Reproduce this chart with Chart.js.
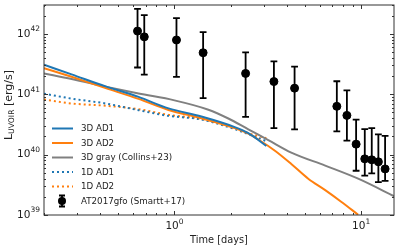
<!DOCTYPE html>
<html>
<head>
<meta charset="utf-8">
<script src="https://cdn.jsdelivr.net/npm/chart.js@4/dist/chart.umd.min.js"></script>
<style>
  html, body { margin: 0; padding: 0; background: #fff; }
  #wrap { width: 399px; height: 249px; }
</style>
</head>
<body>
<div id="wrap"><canvas id="chart" width="399" height="249"></canvas></div>
<script>
const FONT = '"DejaVu Sans", sans-serif';

// 3D AD1
const ad1Time = [0.2, 0.281, 0.428, 0.642, 0.929, 1.394, 2.12, 2.487, 3.105];
const ad1Lum = [3.07e41, 2.13e41, 1.346e41, 9.02e40, 5.82e40, 4.27e40, 2.83e40, 2.26e40, 1.39e40];

// 3D AD2
const ad2Time = [0.2, 0.281, 0.428, 0.642, 0.929, 1.394, 2.12, 2.487, 2.813, 3.468, 4.225, 5.208, 6.42, 7.816, 9.64];
const ad2Lum = [2.7e41, 1.942e41, 1.263e41, 8.37e40, 5.48e40, 4.0e40, 2.72e40, 2.22e40, 1.78e40, 1.15e40, 7.0e39, 3.99e39, 2.58e39, 1.66e39, 1.01e39];

// 3D gray (Collins+23)
const grayTime = [0.2, 0.281, 0.428, 0.642, 1.0, 1.52, 1.944, 2.487, 3.182, 4.225, 6.42, 9.64, 15.2];
const grayLum = [2.21e41, 1.79e41, 1.336e41, 1.028e41, 7.91e40, 5.54e40, 3.96e40, 2.62e40, 1.74e40, 1.08e40, 6.57e39, 3.99e39, 2.01e39];

// 1D AD1 / 1D AD2
const oneDTime = [0.2, 0.281, 0.428, 0.642, 0.929, 1.394, 2.12, 2.487, 3.105];
const oneDAd1Lum = [1.02e41, 8.46e40, 7.02e40, 5.44e40, 4.38e40, 3.81e40, 2.62e40, 2.18e40, 1.67e40];
const oneDAd2Lum = [8.15e40, 7.02e40, 6.44e40, 5.65e40, 4.55e40, 3.9e40, 2.72e40, 2.26e40, 1.87e40];

// AT2017gfo (Smartt+17)
const obsTime = [0.634, 0.689, 1.025, 1.424, 2.405, 3.41, 4.40, 7.41, 8.39, 9.40, 10.46, 11.40, 12.37, 13.44];
const obsLum = [1.11e42, 8.9e41, 7.9e41, 4.86e41, 2.21e41, 1.62e41, 1.26e41, 6.3e40, 4.46e40, 1.49e40, 8.5e39, 8.2e39, 7.6e39, 5.8e39];
const obsLumLow = [2.77e41, 2.11e41, 1.93e41, 8.6e40, 4.2e40, 2.75e40, 2.62e40, 2.43e40, 1.71e40, 5.4e39, 4.5e39, 4.9e39, 3.5e39, 3.66e39];
const obsLumHigh = [2.59e42, 2.04e42, 1.82e42, 1.07e42, 4.94e41, 3.5e41, 2.87e41, 1.64e41, 1.16e41, 3.8e40, 2.65e40, 2.75e40, 2.17e40, 2.04e40];

const xTickLabels = [1, 10];
const yTickLabels = [1e39, 1e40, 1e41, 1e42];

const BLUE = "#1f77b4";
const ORANGE = "#ff7f0e";
const GRAY = "#808080";

function pairs(xs, ys) {
  return xs.map((x, i) => ({ x, y: ys[i] }));
}

function logTicks(min, max) {
  const out = [];
  for (let e = Math.floor(Math.log10(min)); e <= Math.ceil(Math.log10(max)); e++) {
    for (let k = 1; k <= 9; k++) {
      const v = k * Math.pow(10, e);
      if (v >= min * 0.999 && v <= max * 1.001) out.push({ value: v, major: k === 1 });
    }
  }
  return out;
}

function lineSet(label, xs, ys, color, dashed) {
  return {
    type: "line",
    label,
    data: pairs(xs, ys),
    borderColor: color,
    backgroundColor: color,
    borderWidth: 2,
    borderDash: dashed ? [2, 3] : [],
    pointRadius: 0,
    showLine: true,
    fill: false,
    cubicInterpolationMode: "monotone",
  };
}

function drawPow(ctx, exp, x, y, align) {
  ctx.font = `10.5px ${FONT}`;
  const wb = ctx.measureText("10").width;
  ctx.font = `7.5px ${FONT}`;
  const we = ctx.measureText(exp).width;
  const x0 = align === "right" ? x - wb - we : x - (wb + we) / 2;
  ctx.textAlign = "left";
  ctx.textBaseline = "middle";
  ctx.fillStyle = "#222";
  ctx.font = `10.5px ${FONT}`;
  ctx.fillText("10", x0, y);
  ctx.font = `7.5px ${FONT}`;
  ctx.fillText(exp, x0 + wb, y - 4.5);
}

const decor = {
  id: "decor",
  beforeDatasetsDraw(chart) {
    const { ctx, chartArea: ca, scales } = chart;
    ctx.save();
    ctx.beginPath();
    ctx.rect(ca.left, ca.top, ca.right - ca.left, ca.bottom - ca.top);
    ctx.clip();
    ctx.strokeStyle = "#000";
    ctx.lineWidth = 1.8;
    obsTime.forEach((t, i) => {
      const x = scales.x.getPixelForValue(t);
      const y1 = scales.y.getPixelForValue(obsLumLow[i]);
      const y2 = scales.y.getPixelForValue(obsLumHigh[i]);
      ctx.beginPath();
      ctx.moveTo(x, y1); ctx.lineTo(x, y2);
      ctx.moveTo(x - 3.4, y1); ctx.lineTo(x + 3.4, y1);
      ctx.moveTo(x - 3.4, y2); ctx.lineTo(x + 3.4, y2);
      ctx.stroke();
    });
    ctx.restore();
  },
  afterDraw(chart) {
    const { ctx, chartArea: ca, scales } = chart;
    ctx.save();
    // frame
    ctx.strokeStyle = "#333";
    ctx.lineWidth = 1;
    ctx.strokeRect(ca.left, ca.top, ca.right - ca.left, ca.bottom - ca.top);

    // inward ticks on all four sides
    ctx.beginPath();
    scales.x.ticks.forEach((tk) => {
      const x = Math.round(scales.x.getPixelForValue(tk.value)) + 0.5;
      const len = tk.major ? 4 : 2;
      ctx.moveTo(x, ca.bottom); ctx.lineTo(x, ca.bottom - len);
      ctx.moveTo(x, ca.top); ctx.lineTo(x, ca.top + len);
    });
    scales.y.ticks.forEach((tk) => {
      const y = Math.round(scales.y.getPixelForValue(tk.value)) + 0.5;
      const len = tk.major ? 4 : 2;
      ctx.moveTo(ca.left, y); ctx.lineTo(ca.left + len, y);
      ctx.moveTo(ca.right, y); ctx.lineTo(ca.right - len, y);
    });
    ctx.stroke();

    // tick labels
    xTickLabels.forEach((v) => {
      drawPow(ctx, String(Math.round(Math.log10(v))), scales.x.getPixelForValue(v), 226.5, "center");
    });
    yTickLabels.forEach((v) => {
      drawPow(ctx, String(Math.round(Math.log10(v))), 40, scales.y.getPixelForValue(v), "right");
    });

    // axis titles
    ctx.fillStyle = "#222";
    ctx.textBaseline = "middle";
    ctx.textAlign = "center";
    ctx.font = `9.8px ${FONT}`;
    ctx.fillText("Time [days]", (ca.left + ca.right) / 2, 240);

    ctx.save();
    ctx.translate(9, 105);
    ctx.rotate(-Math.PI / 2);
    ctx.textAlign = "left";
    ctx.font = `11px ${FONT}`;
    const wL = ctx.measureText("L").width;
    ctx.font = `7.7px ${FONT}`;
    const wS = ctx.measureText("UVOIR").width;
    ctx.font = `11px ${FONT}`;
    const wR = ctx.measureText(" [erg/s]").width;
    const x0 = -(wL + wS + wR) / 2;
    ctx.fillText("L", x0, 0);
    ctx.font = `7.7px ${FONT}`;
    ctx.fillText("UVOIR", x0 + wL, 3);
    ctx.font = `11px ${FONT}`;
    ctx.fillText(" [erg/s]", x0 + wL + wS, 0);
    ctx.restore();

    // legend
    const rowY = [128.5, 143, 157.5, 172, 186.5, 201];
    ctx.font = `8.7px ${FONT}`;
    ctx.textAlign = "left";
    ctx.textBaseline = "middle";
    chart.data.datasets.forEach((ds, i) => {
      const y = rowY[i];
      if (ds.type === "line") {
        ctx.strokeStyle = ds.borderColor;
        ctx.lineWidth = ds.borderWidth;
        ctx.setLineDash(ds.borderDash);
        ctx.beginPath();
        ctx.moveTo(52, y); ctx.lineTo(73, y);
        ctx.stroke();
        ctx.setLineDash([]);
      } else {
        ctx.strokeStyle = "#000";
        ctx.lineWidth = 1.8;
        ctx.beginPath();
        ctx.moveTo(62, y - 5.5); ctx.lineTo(62, y + 5.5);
        ctx.moveTo(59, y - 5.5); ctx.lineTo(65, y - 5.5);
        ctx.moveTo(59, y + 5.5); ctx.lineTo(65, y + 5.5);
        ctx.stroke();
        ctx.fillStyle = "#000";
        ctx.beginPath();
        ctx.arc(62, y, 4, 0, Math.PI * 2);
        ctx.fill();
      }
      ctx.fillStyle = "#222";
      ctx.fillText(ds.label, 81, y + 0.5);
    });
    ctx.restore();
  },
};

new Chart(document.getElementById("chart"), {
  type: "scatter",
  data: {
    datasets: [
      lineSet("3D AD1", ad1Time, ad1Lum, BLUE, false),
      lineSet("3D AD2", ad2Time, ad2Lum, ORANGE, false),
      lineSet("3D gray (Collins+23)", grayTime, grayLum, GRAY, false),
      lineSet("1D AD1", oneDTime, oneDAd1Lum, BLUE, true),
      lineSet("1D AD2", oneDTime, oneDAd2Lum, ORANGE, true),
      {
        type: "scatter",
        label: "AT2017gfo (Smartt+17)",
        data: pairs(obsTime, obsLum),
        backgroundColor: "#000",
        borderColor: "#000",
        pointRadius: 4,
        pointHoverRadius: 4,
      },
    ],
  },
  options: {
    responsive: false,
    animation: false,
    devicePixelRatio: 1,
    layout: { padding: { top: 2, right: 2, left: 0, bottom: 0 } },
    plugins: { legend: { display: false }, tooltip: { enabled: false } },
    scales: {
      x: {
        type: "logarithmic",
        min: 0.2,
        max: 15,
        grid: { display: false },
        border: { display: false },
        ticks: { display: false },
        afterBuildTicks: (s) => { s.ticks = logTicks(0.2, 15); },
        afterFit: (s) => { s.height = 34; },
      },
      y: {
        type: "logarithmic",
        min: 1e39,
        max: 3e42,
        grid: { display: false },
        border: { display: false },
        ticks: { display: false },
        afterBuildTicks: (s) => { s.ticks = logTicks(1e39, 3e42); },
        afterFit: (s) => { s.width = 44; },
      },
    },
  },
  plugins: [decor],
});
</script>
</body>
</html>
